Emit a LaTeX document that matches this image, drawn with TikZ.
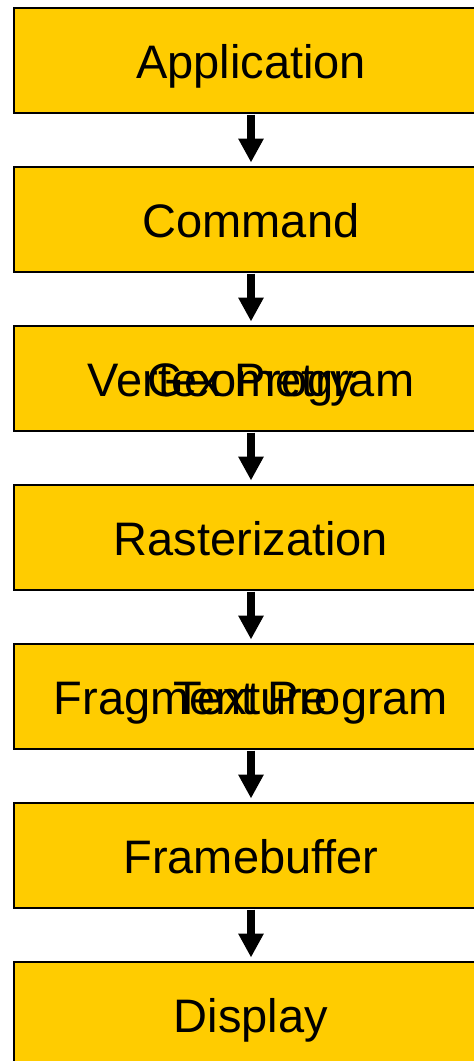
\documentclass[tikz,border=0pt]{standalone}
\usepackage{fontspec}
\setmainfont{Liberation Sans}
\usepackage{xcolor}
\usepackage{tikz}
\usetikzlibrary{arrows.meta, positioning}

\definecolor{stageyellow}{HTML}{FFCC00}

\begin{document}
\begin{tikzpicture}[
  node distance=52pt,
  stage/.style={draw, line width=2pt, fill=stageyellow, minimum width=474pt, minimum height=105pt,
    inner sep=0pt, font=\fontsize{47}{56}\selectfont, text height=37pt, text depth=0pt},
  overtext/.style={inner sep=0pt, font=\fontsize{47}{56}\selectfont, text height=37pt, text depth=0pt},
  flow/.style={line width=8pt, -{Triangle[width=24pt, length=24pt]}, shorten <=1pt, shorten >=3pt}
]
\useasboundingbox (0,0) rectangle (474pt,-1061pt);

\node[stage] (app) at (251pt,-60pt) {Application};
\node[stage] (cmd) [below=of app] {Command};
\node[stage] (vert) [below=of cmd] {Vertex Program};
\node[overtext] (geom) at (vert) {Geometry};
\node[stage] (rast) [below=of vert] {Rasterization};
\node[stage] (frag) [below=of rast] {Fragment Program};
\node[overtext] (tex) at (frag) {Texture};
\node[stage] (fb) [below=of frag] {Framebuffer};
\node[stage] (disp) [below=of fb] {Display};

\draw[flow] (app) -- (cmd);
\draw[flow] (cmd) -- (vert);
\draw[flow] (vert) -- (rast);
\draw[flow] (rast) -- (frag);
\draw[flow] (frag) -- (fb);
\draw[flow] (fb) -- (disp);

\end{tikzpicture}
\end{document}
